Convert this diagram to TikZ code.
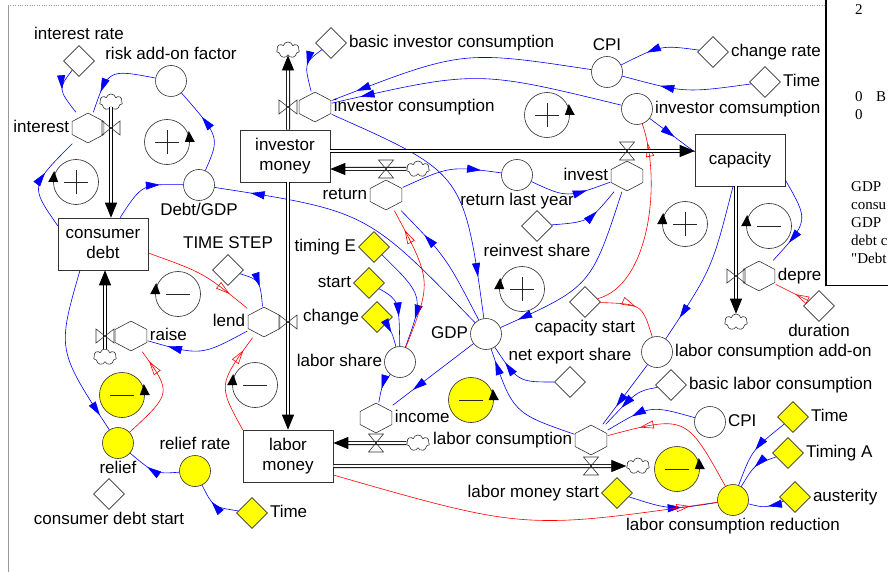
\documentclass[tikz,border=0pt]{standalone}
\usepackage{fontspec}
\setmainfont{Liberation Sans}
\newfontfamily\winfont{Liberation Serif}
\usetikzlibrary{shapes.geometric,shapes.symbols,arrows.meta,decorations.markings}
\definecolor{lnkblue}{HTML}{0000FF}
\definecolor{lnkred}{HTML}{FF0000}
\definecolor{auxyel}{HTML}{FFFF00}
\tikzset{
  valveh/.pic={\draw[black!80, line width=.6pt] (-9,-7) -- (-9,7) -- (0,0) -- cycle (9,-7) -- (9,7) -- (0,0) -- cycle;},
  valvev/.pic={\draw[black!80, line width=.6pt] (-7.5,-9) -- (7.5,-9) -- (0,0) -- cycle (-7.5,9) -- (7.5,9) -- (0,0) -- cycle;},
}
\begin{document}
\begin{tikzpicture}[x=1pt, y=-1pt, font=\fontsize{17}{20}\selectfont,
  stock/.style={rectangle, draw=black!80, line width=.6pt, fill=white, minimum width=90pt, minimum height=52pt, align=center, inner sep=1pt},
  aux/.style={circle, draw=black!80, line width=.6pt, fill=white, minimum size=31pt, inner sep=0pt},
  yaux/.style={aux, fill=auxyel},
  const/.style={diamond, draw=black!80, line width=.6pt, fill=white, minimum width=31pt, minimum height=31pt, inner sep=0pt},
  yconst/.style={const, fill=auxyel},
  rate/.style={rectangle, minimum width=33pt, minimum height=31pt, inner sep=0pt,
    path picture={\filldraw[draw=black!80, fill=white, line width=.6pt]
      ([yshift=-.6pt]path picture bounding box.north)
      -- ([xshift=-.6pt,yshift=-9pt]path picture bounding box.north east)
      -- ([xshift=-.6pt,yshift=9pt]path picture bounding box.south east)
      -- ([yshift=.6pt]path picture bounding box.south)
      -- ([xshift=.6pt,yshift=9pt]path picture bounding box.south west)
      -- ([xshift=.6pt,yshift=-9pt]path picture bounding box.north west) -- cycle;}},
  cloudy/.style={cloud, cloud puffs=7, cloud ignores aspect, draw=black!80, line width=.6pt, fill=white, minimum width=23pt, minimum height=16pt, inner sep=0pt},
  pipe/.style={draw=black, line width=.8pt, double=white, double distance=2.4pt},
  pipeto/.style={pipe, -{Triangle[length=15pt,width=12pt]}},
  link/.style={lnkblue, line width=.6pt, decoration={markings, mark=at position #1 with {\arrow{Triangle[length=14pt,width=8pt]}}}, postaction=decorate},
  link/.default=.6,
  relink/.style={lnkred, line width=.6pt, decoration={markings, mark=at position #1 with {\arrow{Triangle[open,length=14pt,width=8pt]}}}, postaction=decorate},
  relink/.default=.8,
  loopmark/.style={circle, draw=black!85, line width=.6pt, fill=white, minimum size=45pt, inner sep=0pt},
  pluslp/.style={loopmark, path picture={\draw[black!85, line width=.7pt]
      ([xshift=-12pt]path picture bounding box.center) -- ([xshift=12pt]path picture bounding box.center)
      ([yshift=-12pt]path picture bounding box.center) -- ([yshift=12pt]path picture bounding box.center);}},
  minuslp/.style={loopmark, path picture={\draw[black!85, line width=.7pt]
      ([xshift=-12pt]path picture bounding box.center) -- ([xshift=12pt]path picture bounding box.center);}},
  wintxt/.style={font=\winfont\fontsize{15}{17}\selectfont, anchor=base west, inner sep=0pt},
  every label/.style={inner sep=1pt, text height=12pt, text depth=3.5pt},
  label distance=1pt,
]
\useasboundingbox (0,0) rectangle (888,572);
\fill[white] (0,0) rectangle (888,572);
\draw[gray!80, dotted] (8,5) -- (826,5);
\draw[gray!80] (8,5) -- (8,572);

% stocks
\node[stock] (invm) at (285,156) {investor\\money};
\node[stock] (cd) at (103,244) {consumer\\debt};
\node[stock] (cap) at (740,160) {capacity};
\node[stock] (lm) at (288,456) {labor\\money};

% auxiliaries
\node[aux, label=above:{risk add-on factor}] (risk) at (171,81) {};
\node[aux, label=below:{Debt/GDP}] (dg) at (199,185) {};
\node[aux, label=above:CPI] (cpi1) at (607,72) {};
\node[aux, label=right:{investor comsumption}] (icc) at (637,109) {};
\node[aux, label=below:{return last year}] (rly) at (517,175) {};
\node[aux, label=left:GDP] (gdp) at (486,334) {};
\node[aux, label=left:{labor share}] (ls) at (400,362) {};
\node[aux, label=right:{labor consumption add-on}] (lca) at (657,352) {};
\node[aux, label=right:CPI] (cpi2) at (710,422) {};
\node[yaux, label=below:relief] (rel) at (118,443) {};
\node[yaux, label=above:{relief rate}] (rr) at (195,471) {};
\node[yaux, label=below:{labor consumption reduction}] (lcr) at (733,500) {};

% constants
\node[const, label=above:{interest rate}] (ir) at (79,61) {};
\node[const, label=right:{basic investor consumption}] (bic) at (331,43) {};
\node[const, label=right:{change rate}] (cr) at (713,52) {};
\node[const, label=right:Time] (t1) at (765,82) {};
\node[const, label=above:{TIME STEP}] (ts) at (228,270) {};
\node[yconst, label=left:{timing E}] (te) at (374,247) {};
\node[yconst, label=left:start] (st) at (369,283) {};
\node[yconst, label=left:change] (ch) at (377,317) {};
\node[const, label=below:{reinvest share}] (rs) at (537,226) {};
\node[const, label=below:{capacity start}] (cs) at (585,302) {};
\node[const, label=above:{net export share}] (nes) at (570,382) {};
\node[const, label=below:duration] (dur) at (819,306) {};
\node[const, label=right:{basic labor consumption}] (blc) at (671,385) {};
\node[yconst, label=right:Time] (t2) at (793,417) {};
\node[yconst, label=right:{Timing A}] (ta) at (788,453) {};
\node[yconst, label=right:austerity] (aus) at (795,497) {};
\node[yconst, label=left:{labor money start}] (lms) at (617,493) {};
\node[const, label=below:{consumer debt start}] (cds) at (109,494) {};
\node[yconst, label=right:Time] (t3) at (252,513) {};

% rates
\node[rate, label=left:interest] (intr) at (88,128) {};
\node[rate, label=right:{investor consumption}] (ic) at (315,107) {};
\node[rate, label=left:return] (ret) at (386,195) {};
\node[rate, label=left:invest] (inv) at (627,176) {};
\node[rate, label=right:depre] (dep) at (759,276) {};
\node[rate, label=left:lend] (lend) at (264,322) {};
\node[rate, label=right:raise] (raise) at (131,336) {};
\node[rate, label=right:income] (inc) at (376,418) {};
\node[rate, label=left:{labor consumption}] (lc) at (591,440) {};

% clouds and valves
\node[cloudy] (cint) at (111,102) {};
\node[cloudy] (cic) at (288,50) {};
\node[cloudy] (cret) at (418,169) {};
\node[cloudy] (cdep) at (736,322) {};
\node[cloudy] (craise) at (105,357) {};
\node[cloudy] (cinc) at (418,443) {};
\node[cloudy] (clc) at (638,466) {};
\coordinate (vint) at (111,128);
\coordinate (vic) at (288,107);
\coordinate (vlend) at (288,322);
\coordinate (vraise) at (105,336);
\coordinate (vdep) at (736,276);
\coordinate (vret) at (386,169);
\coordinate (vinv) at (627,151);
\coordinate (vinc) at (376,443);
\coordinate (vlc) at (591,466);

% loops
\node[pluslp] (lp1) at (167,142) {};
\node[pluslp] (lp2) at (76,182) {};
\node[pluslp] (lp3) at (547,115) {};
\node[pluslp] (lp4) at (522,289) {};
\node[pluslp] (lp5) at (685,224) {};
\node[minuslp] (lp6) at (769,226) {};
\node[minuslp] (lp7) at (178,294) {};
\node[minuslp] (lp8) at (255,385) {};
\node[minuslp, fill=auxyel] (lp9) at (122,395) {};
\node[minuslp, fill=auxyel] (lp10) at (471,400) {};
\node[minuslp, fill=auxyel] (lp11) at (677,469) {};
\foreach \l in {lp1,lp3,lp9,lp10,lp11}
  \fill ([xshift=-5pt]\l.east) -- ([xshift=5pt]\l.east) -- ([xshift=-1pt,yshift=11pt]\l.east) -- cycle;
\foreach \l in {lp2,lp4,lp5,lp6,lp7,lp8}
  \fill ([xshift=-5pt]\l.west) -- ([xshift=5pt]\l.west) -- ([xshift=1pt,yshift=11pt]\l.west) -- cycle;

% blue links
\draw[link=.45] (ir) .. controls (58,89) .. (intr);
\draw[link=.75] (risk) .. controls (108,69) .. (intr);
\draw[link=.65] (dg) .. controls (220,137) .. (risk);
\draw[link=.7] (cd) .. controls (142,184) .. (dg);
\draw[link=.88] (gdp) .. controls (367,211) .. (dg);
\draw[link=.6] ([yshift=-8pt]cd.north west) .. controls (30,186) .. (intr);
\draw[link=.9] ([xshift=-23pt]cd.south) .. controls (57,350) .. (rel);
\draw[link=.6] (rr) .. controls (155,474) .. (rel);
\draw[link=.6] (t3) .. controls (213,507) .. (rr);
\draw[link=.8] (lend) .. controls (201,356) .. (raise);
\draw[link=.55] (ts) .. controls (260,280) .. (lend);
\draw[link=.9] (cpi1) .. controls (462,50) .. (ic);
\draw[link=.9] (icc) .. controls (477,70) .. (ic);
\draw[link=.45] (bic) .. controls (304,63) .. (ic);
\draw[link=.65] (cr) .. controls (661,45) .. (cpi1);
\draw[link=.7] (t1) .. controls (685,93) .. (cpi1);
\draw[link=.55] (icc) -- ([yshift=8pt]cap.west);
\draw[link=.85] (ic) .. controls (464,173) .. (gdp);
\draw[link=.75] (gdp) .. controls (446,257) .. (ret);
\draw[link=.8] (ret) .. controls (450,166) .. (rly);
\draw[link=.7] (rly) .. controls (567,198) .. (inv);
\draw[link=.65] (rs) .. controls (589,222) .. (inv);
\draw[link=.9] (inv) .. controls (591,287) .. (gdp);
\draw[link=.85] ([xshift=-7pt]cap.south) .. controls (712,269) .. (lca);
\draw[link=.75] ([yshift=-20pt]cap.east) .. controls (809,221) .. (dep);
\draw[link=.7] (lca) -- (lc);
\draw[link=.65] (blc) .. controls (637,391) .. (lc);
\draw[link=.7] (cpi2) .. controls (650,405) .. (lc);
\draw[link=.9] (lc) .. controls (513,413) .. (gdp);
\draw[link=.75] (nes) .. controls (518,382) .. (gdp);
\draw[link=.75] (gdp) -- (inc);
\draw[link=.55] (ls) .. controls (382,385) .. (inc);
\draw[link=.72] (te) .. controls (424,296) .. (ls);
\draw[link=.55] (st) .. controls (399,300) .. (ls);
\draw[link=.4] (ch) .. controls (392,332) .. (ls);
\draw[link=.5] (t2) .. controls (752,450) .. (lcr);
\draw[link=.5] (ta) .. controls (755,464) .. (lcr);
\draw[link=.45] (aus) .. controls (765,508) .. (lcr);
\draw[link=.6] (lms) .. controls (670,510) .. (lcr);

% red links
\draw[relink=.8] ([yshift=-9pt]cd.east) .. controls (204,273) .. (lend);
\draw[relink=.88] (rel) .. controls (172,393) .. (raise);
\draw[relink=.85] (lm.north west) .. controls (218,385) .. (lend);
\draw[relink=.85] (ls) .. controls (432,281) .. (ret);
\draw[relink=.9] (cs) .. controls (650,285) and (662,180) .. (icc);
\draw[relink=.5] (cs) .. controls (642,304) .. (lca);
\draw[relink=.4] (dur) -- (dep);
\draw[relink=.78] (lcr) .. controls (686,415) .. (lc);
\draw[relink=.93] ([yshift=-19pt]lm.east) .. controls (525,530) .. (lcr);

% pipes
\draw[pipeto] (cint.south) -- (cint.south |- cd.north);
\draw[pipeto] (invm.north -| vic) -- (cic.south);
\draw[pipeto] (invm.south -| vlend) -- (lm.north -| vlend);
\draw[pipeto] (cret.west) -- (invm.east |- vret);
\draw[pipeto] (invm.east |- vinv) -- (cap.west |- vinv);
\draw[pipeto] (cap.south -| vdep) -- (cdep.north);
\draw[pipeto] (craise.north) -- (craise.north |- cd.south);
\draw[pipeto] (cinc.west) -- (lm.east |- vinc);
\draw[pipeto] (lm.east |- vlc) -- (clc.west);
\foreach \v in {vint,vic,vlend,vraise,vdep} \pic at (\v) {valveh};
\foreach \v in {vret,vinv,vinc,vlc} \pic at (\v) {valvev};

% overlapping window
\fill[white] (826,-2) rectangle (892,285);
\draw[line width=1.2pt] (826,-2) -- (826,285.5) -- (892,285.5);
\begin{scope}
  \clip (827,0) rectangle (888,284);
  \node[wintxt] (w1) at (855,15) {2};
  \node[wintxt] (w2) at (855,102) {0};
  \node[wintxt] (w3) at (876,102) {B};
  \node[wintxt] (w4) at (855,120) {0};
  \node[wintxt] (w5) at (851,191) {GDP};
  \node[wintxt] (w6) at (851,209) {consu};
  \node[wintxt] (w7) at (851,227) {GDP};
  \node[wintxt] (w8) at (851,245) {debt c};
  \node[wintxt] (w9) at (851,263) {"Debt};
\end{scope}
\end{tikzpicture}
\end{document}
